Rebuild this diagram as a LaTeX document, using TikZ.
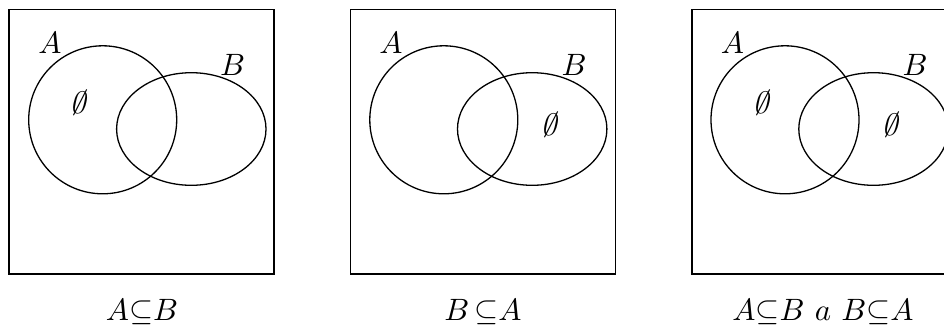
\documentclass[tikz,border=0pt]{standalone}
\begin{document}
\begin{tikzpicture}[x=1bp,y=-1bp,
  frame/.style={line width=1.5bp},
  setline/.style={line width=1.3bp},
  lbl/.style={inner sep=0pt,font=\fontsize{10}{12}\selectfont,scale=3.1},
  captext/.style={inner sep=0pt,font=\fontsize{10}{12}\selectfont,scale=3.1,anchor=base},
  emp/.style={inner sep=0pt,font=\fontsize{10}{12}\selectfont,scale=3.1,xslant=0.22}]
\useasboundingbox (0,0) rectangle (944,325);
\begin{scope}
\clip (0,0) rectangle (944,325);
% panel 1
\draw[frame] (9,9.5) rectangle (274,274);
\draw[setline] (102.7,119.8) circle [radius=74bp];
\draw[setline] (191.3,129) ellipse [x radius=74.7bp, y radius=56.3bp];
% panel 2
\draw[frame] (350.7,9.5) rectangle (615.7,274);
\draw[setline] (443.8,119.8) circle [radius=74bp];
\draw[setline] (532.2,129) ellipse [x radius=74.7bp, y radius=56.3bp];
% panel 3
\draw[frame] (958,9.5) -- (692,9.5) -- (692,274) -- (958,274);
\draw[setline] (785,119.8) circle [radius=74bp];
\draw[setline] (873.5,129) ellipse [x radius=74.7bp, y radius=56.3bp];
\end{scope}
\node[lbl] (a1) at (50,42.5) {$A$};
\node[lbl] (b1) at (232.5,65) {$B$};
\node[emp] (e1) at (81,103) {$\emptyset$};
\node[captext] (c1) at (142,320) {$A{\subseteq}B$};
\node[lbl] (a2) at (391,42.5) {$A$};
\node[lbl] (b2) at (574,65) {$B$};
\node[emp] (e2) at (551.7,125) {$\emptyset$};
\node[captext] (c2) at (483,320) {$B\,{\subseteq}A$};
\node[lbl] (a3) at (732.5,42.5) {$A$};
\node[lbl] (b3) at (915,65) {$B$};
\node[emp] (e3a) at (764,103) {$\emptyset$};
\node[emp] (e3b) at (893,125) {$\emptyset$};
\node[captext] (c3) at (823,320) {$A{\subseteq}B\ a\ B{\subseteq}A$};
\end{tikzpicture}
\end{document}
